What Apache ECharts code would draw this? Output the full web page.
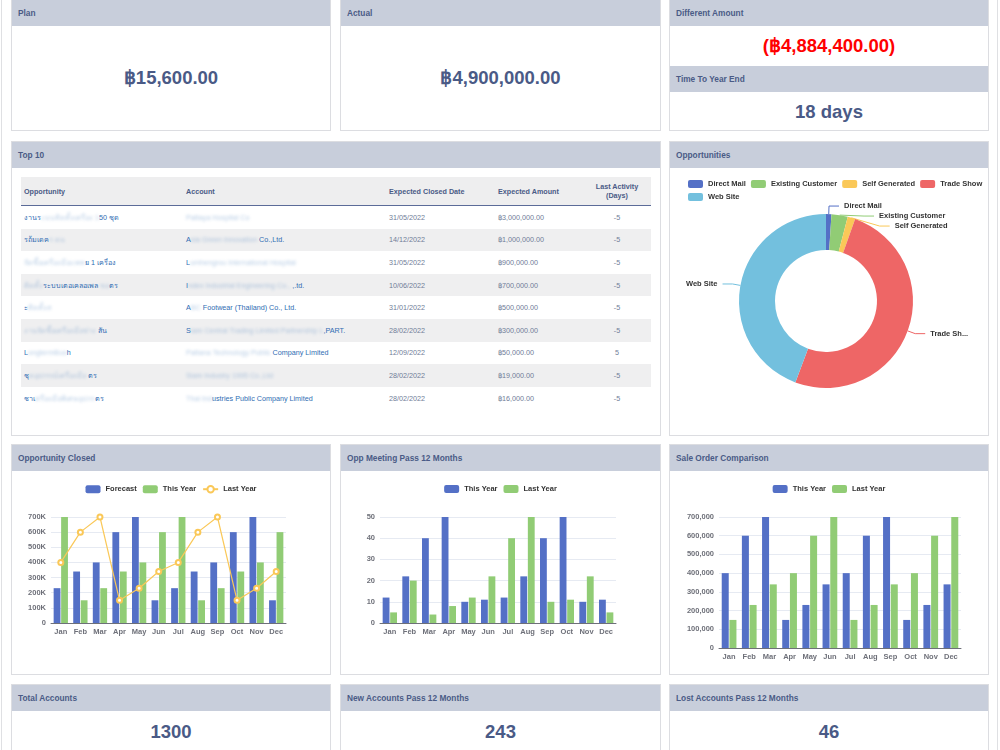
<!DOCTYPE html>
<html>
<head>
<meta charset="utf-8">
<title>Sales Dashboard</title>
<script src="https://cdn.jsdelivr.net/npm/echarts@6/dist/echarts.min.js"></script>
<style>
  body {
    margin: 0;
    width: 1000px;
    height: 750px;
    overflow: hidden;
    background: #fff;
    position: relative;
    font-family: "Liberation Sans", Arial, "Noto Sans", sans-serif;
  }
  .edge { position: absolute; top: 0; bottom: 0; width: 1px; background: #dfe0e3; }
  .panel { position: absolute; border: 1px solid #dcdde1; background: #fff; box-sizing: border-box; overflow: hidden; }
  .hd { height: 26px; background: #c8cedb; color: #4a5b86; font-weight: bold; font-size: 8.3px; line-height: 26px; padding-left: 6px; }
  .big { font-weight: bold; color: #4a5a86; font-size: 18.5px; text-align: center; }
  .red { color: #ff0000; }
  .chart { position: absolute; left: 0; right: 0; top: 26px; bottom: 0; }
  table { border-collapse: collapse; margin: 9px 0 0 9px; width: 630px; table-layout: fixed; font-size: 7.2px; }
  th { background: #eeeeef; color: #4a5b86; font-weight: bold; text-align: left; height: 28px; padding: 0 3px; border-bottom: 1.5px solid #5b6b98; }
  th.c, td.c { text-align: center; }
  td { height: 22.6px; padding: 0 3px; color: #707d98; white-space: nowrap; overflow: hidden; }
  tr:nth-child(even) td { background: #efeff0; }
  td.lnk { color: #2f6db3; }
  .bl { filter: blur(1.4px); opacity: 0.35; }
</style>
</head>
<body>
<div class="edge" style="left:1px"></div>
<div class="edge" style="left:997px"></div>

<div class="panel" style="left:11px;top:-1px;width:320px;height:132px">
  <div class="hd">Plan</div>
  <div class="big" id="plan" style="line-height:104px"></div>
</div>
<div class="panel" style="left:340px;top:-1px;width:321px;height:132px">
  <div class="hd">Actual</div>
  <div class="big" id="actual" style="line-height:104px"></div>
</div>
<div class="panel" style="left:669px;top:-1px;width:320px;height:132px">
  <div class="hd">Different Amount</div>
  <div class="big red" id="diff" style="line-height:40px"></div>
  <div class="hd">Time To Year End</div>
  <div class="big" id="days" style="line-height:39px"></div>
</div>

<div class="panel" style="left:11px;top:141px;width:650px;height:295px">
  <div class="hd">Top 10</div>
  <table>
    <colgroup><col style="width:162px"><col style="width:203px"><col style="width:109px"><col style="width:88px"><col style="width:68px"></colgroup>
    <thead><tr><th>Opportunity</th><th>Account</th><th>Expected Closed Date</th><th>Expected Amount</th><th class="c">Last Activity<br>(Days)</th></tr></thead>
    <tbody id="top10"></tbody>
  </table>
</div>
<div class="panel" style="left:669px;top:141px;width:320px;height:295px">
  <div class="hd">Opportunities</div>
  <div class="chart" id="pie"></div>
</div>

<div class="panel" style="left:11px;top:444px;width:320px;height:231px">
  <div class="hd">Opportunity Closed</div>
  <div class="chart" id="closed"></div>
</div>
<div class="panel" style="left:340px;top:444px;width:321px;height:231px">
  <div class="hd">Opp Meeting Pass 12 Months</div>
  <div class="chart" id="meeting"></div>
</div>
<div class="panel" style="left:669px;top:444px;width:320px;height:231px">
  <div class="hd">Sale Order Comparison</div>
  <div class="chart" id="saleorder"></div>
</div>

<div class="panel" style="left:11px;top:684px;width:320px;height:90px">
  <div class="hd">Total Accounts</div>
  <div class="big" id="total" style="line-height:42px"></div>
</div>
<div class="panel" style="left:340px;top:684px;width:321px;height:90px">
  <div class="hd">New Accounts Pass 12 Months</div>
  <div class="big" id="newacc" style="line-height:42px"></div>
</div>
<div class="panel" style="left:669px;top:684px;width:320px;height:90px">
  <div class="hd">Lost Accounts Pass 12 Months</div>
  <div class="big" id="lostacc" style="line-height:42px"></div>
</div>

<script>
// kpi
const planAmount = 15600;
const actualAmount = 4900000;
const daysToYearEnd = 18;
const totalAccounts = 1300;
const newAccounts = 243;
const lostAccounts = 46;

// top 10 (names partly blurred like the source screenshot; odd pieces are blurred)
const oppNames = [
  ['งานร', 'ะบบติดตั้งเครื่อง 1', '50 ชุด'],
  ['รถ้มเดค', 'ร ดน'],
  ['', 'จัดซื้อเครื่องมือแพท', 'ย 1 เครื่อง'],
  ['', 'ติดตั้ง', 'ระบบเตอเคลอเพล ', 'ขอ', 'ตร'],
  ['ะ', 'ติดตั้งส'],
  ['', 'งานจัดซื้อเครื่องมือช่าง ', 'สัน'],
  ['L', 'ongtermBus', 'h'],
  ['ช', 'ุดอุปกรณ์เครื่องมือ ', 'ตร'],
  ['ชาเ', 'ครื่องมือพิเศษอุปกร', 'ตร']
];
const accounts = [
  ['', 'Pattaya Hospital Co'],
  ['A', 'sia Green Innovation', ' Co.,Ltd.'],
  ['L', 'umhengrou International Hospital'],
  ['I', 'ndex Industrial Engineering Co., ', ',.td.'],
  ['A', 'BC', ' Footwear (Thailand) Co., Ltd.'],
  ['S', 'iam Central Trading Limited Partnership L', ',PART.'],
  ['', 'Pattana Technology Public', ' Company Limited'],
  ['', 'Siam Industry 1995 Co.,Ltd'],
  ['', 'Thai Ind', 'ustries Public Company Limited']
];
const closedDates = ['31/05/2022', '14/12/2022', '31/05/2022', '10/06/2022', '31/01/2022', '28/02/2022', '12/09/2022', '28/02/2022', '28/02/2022'];
const expectedAmounts = [3000000, 1000000, 900000, 700000, 500000, 300000, 50000, 19000, 16000];
const lastActivity = [-5, -5, -5, -5, -5, -5, 5, -5, -5];

// charts
const months = ['Jan', 'Feb', 'Mar', 'Apr', 'May', 'Jun', 'Jul', 'Aug', 'Sep', 'Oct', 'Nov', 'Dec'];
const closedForecast = [230000, 340000, 400000, 600000, 700000, 150000, 230000, 340000, 400000, 600000, 700000, 150000];
const closedThisYear = [700000, 150000, 230000, 340000, 400000, 600000, 700000, 150000, 230000, 340000, 400000, 600000];
const closedLastYear = [400000, 600000, 700000, 150000, 230000, 340000, 400000, 600000, 700000, 150000, 230000, 340000];
const meetingThisYear = [12, 22, 40, 50, 10, 11, 12, 22, 40, 50, 10, 11];
const meetingLastYear = [5, 20, 4, 8, 12, 22, 40, 50, 10, 11, 22, 5];
const saleThisYear = [400000, 600000, 700000, 150000, 230000, 340000, 400000, 600000, 700000, 150000, 230000, 340000];
const saleLastYear = [150000, 230000, 340000, 400000, 600000, 700000, 150000, 230000, 340000, 400000, 600000, 700000];
const sources = ['Direct Mail', 'Existing Customer', 'Self Generated', 'Trade Show', 'Web Site'];
const sourceValues = [50000, 150000, 70000, 2500000, 2200000];

const palette = ['#5470c6', '#91cc75', '#fac858', '#ee6666', '#73c0de'];

function baht(n) {
  const s = '฿' + Math.abs(n).toLocaleString('en-US', { minimumFractionDigits: 2, maximumFractionDigits: 2 });
  return n < 0 ? '(' + s + ')' : s;
}

document.getElementById('plan').textContent = baht(planAmount);
document.getElementById('actual').textContent = baht(actualAmount);
document.getElementById('diff').textContent = baht(planAmount - actualAmount);
document.getElementById('days').textContent = daysToYearEnd + ' days';
document.getElementById('total').textContent = totalAccounts;
document.getElementById('newacc').textContent = newAccounts;
document.getElementById('lostacc').textContent = lostAccounts;

function pieces(parts) {
  return parts.map((p, i) => i % 2 ? '<span class="bl">' + p + '</span>' : p).join('');
}
let rows = '';
for (let i = 0; i < closedDates.length; i++) {
  rows += '<tr><td class="lnk">' + pieces(oppNames[i]) + '</td>' +
    '<td class="lnk">' + pieces(accounts[i]) + '</td>' +
    '<td>' + closedDates[i] + '</td>' +
    '<td>' + baht(expectedAmounts[i]) + '</td>' +
    '<td class="c">' + lastActivity[i] + '</td></tr>';
}
document.getElementById('top10').innerHTML = rows;

const fs = 7.5;
const legendBase = {
  top: 9,
  itemWidth: 15,
  itemHeight: 8,
  itemGap: 6,
  textStyle: { fontSize: fs, fontWeight: 'bold', color: '#333' }
};
const xAxisBase = {
  type: 'category',
  data: months,
  axisLine: { lineStyle: { color: '#6e7079' } },
  axisTick: { length: 3 },
  axisLabel: { fontSize: fs, fontWeight: 'bold', color: '#6e7079', margin: 5, interval: 0 }
};
function yAxisBase(max, interval, fmt) {
  return {
    type: 'value',
    min: 0,
    max: max,
    interval: interval,
    axisLabel: { fontSize: fs, fontWeight: 'bold', color: '#6e7079', margin: 5, formatter: fmt },
    splitLine: { lineStyle: { color: '#e6eaf2' } }
  };
}

const closedChart = echarts.init(document.getElementById('closed'));
closedChart.setOption({
  animation: false,
  color: palette,
  legend: Object.assign({}, legendBase, { data: ['Forecast', 'This Year', 'Last Year'] }),
  grid: { left: 39, right: 44, top: 46, bottom: 51 },
  xAxis: xAxisBase,
  yAxis: yAxisBase(700000, 100000, v => v === 0 ? '0' : (v / 1000) + 'K'),
  series: [
    { name: 'Forecast', type: 'bar', data: closedForecast },
    { name: 'This Year', type: 'bar', data: closedThisYear },
    { name: 'Last Year', type: 'line', data: closedLastYear, symbol: 'emptyCircle', symbolSize: 5, lineStyle: { width: 1.2 } }
  ]
});

const meetingChart = echarts.init(document.getElementById('meeting'));
meetingChart.setOption({
  animation: false,
  color: palette,
  legend: Object.assign({}, legendBase, { data: ['This Year', 'Last Year'] }),
  grid: { left: 39, right: 44, top: 46, bottom: 51 },
  xAxis: xAxisBase,
  yAxis: yAxisBase(50, 10),
  series: [
    { name: 'This Year', type: 'bar', data: meetingThisYear },
    { name: 'Last Year', type: 'bar', data: meetingLastYear }
  ]
});

const saleChart = echarts.init(document.getElementById('saleorder'));
saleChart.setOption({
  animation: false,
  color: palette,
  legend: Object.assign({}, legendBase, { data: ['This Year', 'Last Year'] }),
  grid: { left: 49, right: 27, top: 46, bottom: 26 },
  xAxis: xAxisBase,
  yAxis: yAxisBase(700000, 100000, v => v.toLocaleString('en-US')),
  series: [
    { name: 'This Year', type: 'bar', data: saleThisYear },
    { name: 'Last Year', type: 'bar', data: saleLastYear }
  ]
});

const pieChart = echarts.init(document.getElementById('pie'));
pieChart.setOption({
  animation: false,
  color: palette,
  legend: Object.assign({}, legendBase, { left: 18, right: 0, top: 12, itemGap: 5, padding: 0 }),
  series: [{
    name: 'Opportunities',
    type: 'pie',
    center: [156, 133],
    radius: [51, 87],
    label: { fontSize: fs, fontWeight: 'bold', color: '#333' },
    labelLine: { length: 8, length2: 10, lineStyle: { width: 1 } },
    data: sources.map((s, i) => {
      const d = { name: s, value: sourceValues[i] };
      if (s === 'Trade Show') d.label = { width: 40, overflow: 'truncate' };
      return d;
    })
  }]
});
</script>
</body>
</html>
